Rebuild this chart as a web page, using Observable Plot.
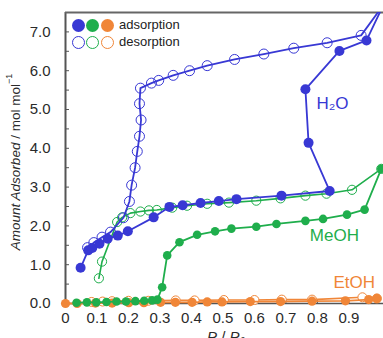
<!DOCTYPE html>
<html><head><meta charset="utf-8">
<script src="https://cdn.jsdelivr.net/npm/d3@7"></script>
<script src="https://cdn.jsdelivr.net/npm/@observablehq/plot@0.6"></script>
<style>
body{margin:0;background:#fff;}
#chart{position:relative;width:383px;height:338px;overflow:hidden;font-family:"Liberation Sans",Arial,sans-serif;}
.lg{position:absolute;font-size:13px;color:#222;line-height:1;}
.c{position:absolute;width:13px;height:13px;border-radius:50%;box-sizing:border-box;}
</style></head><body><div id="chart"></div>
<script>
// ---- data ----
const h2oAdsX = [0.048,0.072,0.085,0.108,0.134,0.166,0.198,0.280,0.330,0.372,0.429,0.487,0.543,0.686,0.839,0.772,0.762,0.870,0.956,1.01];
const h2oAdsY = [0.92,1.37,1.43,1.54,1.67,1.75,1.86,2.22,2.49,2.53,2.59,2.64,2.69,2.78,2.90,4.14,5.52,6.51,6.78,7.7];
const h2oDesX = [1.01,0.939,0.831,0.725,0.630,0.537,0.450,0.394,0.342,0.296,0.273,0.238,0.235,0.240,0.235,0.228,0.221,0.210,0.203,0.184,0.143,0.116,0.090,0.070];
const h2oDesY = [7.7,6.91,6.72,6.58,6.43,6.29,6.13,6.00,5.88,5.75,5.68,5.55,5.15,4.73,4.31,3.92,3.50,3.05,2.63,2.21,1.84,1.71,1.57,1.44];
const meohAdsX = [0.035,0.068,0.098,0.130,0.162,0.192,0.222,0.250,0.275,0.292,0.307,0.323,0.362,0.418,0.475,0.527,0.606,0.670,0.762,0.818,0.894,0.950,1.003];
const meohAdsY = [0.02,0.03,0.03,0.04,0.05,0.05,0.06,0.07,0.08,0.10,0.42,1.24,1.58,1.77,1.86,1.93,1.98,2.05,2.13,2.18,2.29,2.42,3.47];
const meohDesX = [1.003,0.910,0.829,0.762,0.683,0.606,0.519,0.450,0.386,0.339,0.290,0.265,0.238,0.206,0.180,0.164,0.116,0.106];
const meohDesY = [3.47,2.93,2.83,2.78,2.71,2.65,2.60,2.57,2.52,2.47,2.41,2.40,2.37,2.33,2.22,2.10,1.08,0.65];
const etohAdsX = [0.0,0.037,0.095,0.148,0.201,0.249,0.302,0.349,0.402,0.450,0.497,0.587,0.683,0.783,0.889,0.963,0.989];
const etohAdsY = [0.0,0.0,0.01,0.01,0.02,0.02,0.03,0.03,0.03,0.04,0.04,0.05,0.05,0.06,0.07,0.10,0.13];
const etohDesX = [0.989,0.943,0.783,0.687,0.600,0.503,0.410,0.350,0.263,0.200,0.148,0.118,0.083];
const etohDesY = [0.13,0.16,0.10,0.10,0.09,0.09,0.08,0.08,0.07,0.07,0.06,0.05,0.04];
const yMajorTicks = [0,1,2,3,4,5,6,7];
const yMinorTicks = [0,0.5,1,1.5,2,2.5,3,3.5,4,4.5,5,5.5,6,6.5,7,7.5];
const xTicks = [0,0.1,0.2,0.3,0.4,0.5,0.6,0.7,0.8,0.9];
const seriesNames = ["H\u2082O","MeOH","EtOH"];
const labelX = [0.848,0.854,0.917];
const labelY = [5.15,1.75,0.54];
const legendTexts = ["adsorption","desorption"];

const BLUE="#3838d4", GREEN="#1fae4c", ORANGE="#f08638";
const colors=[BLUE,GREEN,ORANGE];
const pts=(xs,ys)=>xs.map((x,i)=>({x,y:ys[i]}));
const h2oA=pts(h2oAdsX,h2oAdsY), h2oD=pts(h2oDesX,h2oDesY);
const meA=pts(meohAdsX,meohAdsY), meD=pts(meohDesX,meohDesY);
const etA=pts(etohAdsX,etohAdsY), etD=pts(etohDesX,etohDesY);
const labels=seriesNames.map((t,i)=>({t,x:labelX[i],y:labelY[i],c:colors[i]}));

const FONT="Liberation Sans, Arial, sans-serif";
const plot = Plot.plot({
  width:383, height:338,
  marginLeft:65, marginRight:0, marginTop:12, marginBottom:35,
  x:{domain:[0,1.01]},
  y:{domain:[0,7.5]},
  style:{fontFamily:FONT, fontSize:"15px", color:"#2a2a2a", background:"white", overflow:"visible"},
  marks:[
    Plot.axisY({ticks:yMajorTicks, tickSize:0, tickPadding:15, tickFormat:d=>d.toFixed(1), label:null, fontSize:15}),
    Plot.axisY({ticks:yMinorTicks, tickSize:-4, tickFormat:()=>"", label:null, stroke:"#555"}),
    Plot.axisX({ticks:xTicks, tickSize:0, tickPadding:9, tickFormat:d=>d===0?"0":d.toFixed(1), label:null, fontSize:15}),
    Plot.axisX({ticks:xTicks, tickSize:-4, tickFormat:()=>"", label:null, stroke:"#555"}),
    Plot.ruleX([0],{stroke:"#555", strokeWidth:2}),
    Plot.ruleY([0],{stroke:"#555", strokeWidth:1.5}),
    Plot.ruleY([7.5],{stroke:"#666", strokeWidth:2}),
    // EtOH
    Plot.line(etD,{x:"x",y:"y",stroke:ORANGE,strokeWidth:1.6}),
    Plot.dot(etD,{x:"x",y:"y",stroke:ORANGE,fill:"white",r:4.5,strokeWidth:1}),
    Plot.line(etA,{x:"x",y:"y",stroke:ORANGE,strokeWidth:1.8}),
    Plot.dot(etA,{x:"x",y:"y",fill:ORANGE,r:4.6}),
    // MeOH
    Plot.line(meD,{x:"x",y:"y",stroke:GREEN,strokeWidth:1.6}),
    Plot.dot(meD,{x:"x",y:"y",stroke:GREEN,fill:"white",fillOpacity:0,r:4.6,strokeWidth:1}),
    Plot.line(meA,{x:"x",y:"y",stroke:GREEN,strokeWidth:1.8}),
    Plot.dot(meA,{x:"x",y:"y",fill:GREEN,r:4.3}),
    // H2O
    Plot.line(h2oD,{x:"x",y:"y",stroke:BLUE,strokeWidth:1.8,clip:true}),
    Plot.dot(h2oD,{x:"x",y:"y",stroke:BLUE,fill:"white",fillOpacity:0,r:5,strokeWidth:1,clip:true}),
    Plot.line(h2oA,{x:"x",y:"y",stroke:BLUE,strokeWidth:1.8,clip:true}),
    Plot.dot(h2oA,{x:"x",y:"y",fill:BLUE,r:5,clip:true}),
    Plot.text(labels,{x:"x",y:"y",text:"t",fill:"c",fontSize:17,fontFamily:FONT})
  ]
});
const chart=document.getElementById("chart");
chart.appendChild(plot);
const svg=d3.select(plot);
// y-axis title
const yt=svg.append("text").attr("transform","translate(15,162) rotate(-90)")
  .attr("text-anchor","middle").attr("dominant-baseline","central")
  .attr("font-size",13.5).attr("fill","#2a2a2a").attr("font-family",FONT);
yt.append("tspan").attr("font-style","italic").text("Amount Adsorbed");
yt.append("tspan").text(" / mol mol");
yt.append("tspan").attr("font-size",9).attr("dy",-6).text("\u22121");
// x-axis title (partly cut by the bottom edge, as in the reference)
const xt=svg.append("text").attr("transform","translate(226,342)")
  .attr("text-anchor","middle").attr("font-size",15).attr("fill","#2a2a2a").attr("font-family",FONT);
xt.append("tspan").attr("font-style","italic").text("P");
xt.append("tspan").text(" / ");
xt.append("tspan").attr("font-style","italic").text("P");
xt.append("tspan").attr("font-style","italic").attr("font-size",10).attr("dy",3).text("0");
// legend
const lx=[72,86,101];
colors.forEach((c,i)=>{
  const a=document.createElement("div");a.className="c";
  a.style.left=lx[i]+"px";a.style.top="18.5px";a.style.background=c;chart.appendChild(a);
  const b=document.createElement("div");b.className="c";
  b.style.left=lx[i]+"px";b.style.top="35.5px";b.style.border="1.5px solid "+c;chart.appendChild(b);
});
legendTexts.forEach((t,i)=>{
  const d=document.createElement("div");d.className="lg";d.textContent=t;
  d.style.left="119px";d.style.top=(18+i*17)+"px";chart.appendChild(d);
});
</script></body></html>
